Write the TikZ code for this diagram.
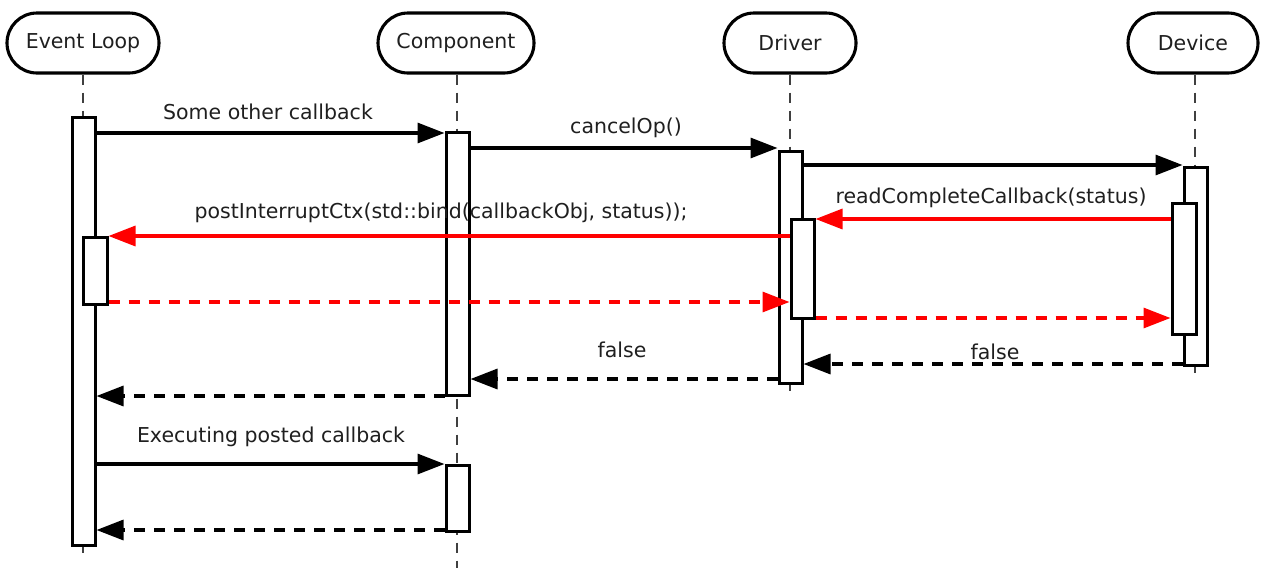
\documentclass[tikz,border=0pt]{standalone}
\usepackage{fontspec}
\setmainfont{DejaVu Sans}
\usetikzlibrary{arrows.meta,shapes.misc}
\begin{document}
\begin{tikzpicture}[x=1pt,y=-1pt,
  every node/.style={font=\fontsize{20.5}{24}\selectfont, text=black!88},
  head/.style={draw, line width=3.1pt, rounded rectangle, minimum height=60pt, inner sep=0pt},
  act/.style={draw, fill=white, line width=3pt, inner sep=0pt},
  life/.style={line width=1.6pt, black!75, dash pattern=on 10pt off 8pt},
  msg/.style={line width=3.2pt, -{Triangle[length=27pt,width=20pt]}},
  ret/.style={msg, dash pattern=on 11pt off 9pt},
  redmsg/.style={msg, red},
  redret/.style={ret, red},
  lbl/.style={inner sep=0pt}
]
\useasboundingbox (0,0) rectangle (1263,568);

% headers
\node[head, minimum width=152pt] (hEL) at (83,43) {Event Loop};
\node[head, minimum width=156pt] (hCO) at (456,43) {Component};
\node[head, minimum width=132pt] (hDR) at (790,43) {Driver};
\node[head, minimum width=130pt] (hDV) at (1193,43) {Device};

% lifeline ends
\coordinate (eEL) at (83,558);
\coordinate (eCO) at (457,568);
\coordinate (eDR) at (790,395);
\coordinate (eDV) at (1195,378);

\draw[life] (hEL.south) -- (hEL.south |- eEL);
\draw[life] (hCO.south -| eCO) -- (eCO);
\draw[life] (hDR.south -| eDR) -- (eDR);
\draw[life] (hDV.south -| eDV) -- (eDV);

% activation boxes
\node[act, minimum width=23pt, minimum height=428pt] (elA) at (83.5,331) {};
\node[act, minimum width=24pt, minimum height=67pt] (elB) at (95,270.5) {};
\node[act, minimum width=23pt, minimum height=263pt] (coA) at (457.5,263.5) {};
\node[act, minimum width=23pt, minimum height=66pt] (coB) at (457.5,498) {};
\node[act, minimum width=23pt, minimum height=232pt] (drA) at (790.5,267) {};
\node[act, minimum width=23pt, minimum height=99pt] (drB) at (802.5,268.5) {};
\node[act, minimum width=23pt, minimum height=198pt] (dvA) at (1195.5,266) {};
\node[act, minimum width=24pt, minimum height=131pt] (dvB) at (1184,268.5) {};

% message levels
\coordinate (y1) at (0,133);
\coordinate (y2) at (0,148);
\coordinate (y3) at (0,165);
\coordinate (y4) at (0,219);
\coordinate (y5) at (0,236);
\coordinate (y6) at (0,302);
\coordinate (y7) at (0,318);
\coordinate (y8) at (0,364);
\coordinate (y9) at (0,379);
\coordinate (y10) at (0,396);
\coordinate (y11) at (0,464);
\coordinate (y12) at (0,530);

\draw[msg] (elA.east |- y1) -- (coA.west |- y1);
\draw[msg] (coA.east |- y2) -- (drA.west |- y2);
\draw[msg] (drA.east |- y3) -- (dvA.west |- y3);
\draw[redmsg] (dvB.west |- y4) -- (drB.east |- y4);
\draw[redmsg] (drB.west |- y5) -- (elB.east |- y5);
\draw[redret] (elB.east |- y6) -- (drB.west |- y6);
\draw[redret] (drB.east |- y7) -- (dvB.west |- y7);
\draw[ret] (dvA.west |- y8) -- (drA.east |- y8);
\draw[ret] (drA.west |- y9) -- (coA.east |- y9);
\draw[ret] (coA.west |- y10) -- (elA.east |- y10);
\draw[msg] (elA.east |- y11) -- (coB.west |- y11);
\draw[ret] (coB.west |- y12) -- (elA.east |- y12);

% labels
\node[lbl] (l1) at (268,112) {Some other callback};
\node[lbl] (l2) at (626,128) {cancelOp()};
\node[lbl] (l4) at (991,198) {readCompleteCallback(status)};
\node[lbl] (l5) at (441,213) {postInterruptCtx(std::bind(callbackObj, status));};
\node[lbl] (l9) at (622,350) {false};
\node[lbl] (l8) at (995,352) {false};
\node[lbl] (l11) at (271,437) {Executing posted callback};
\end{tikzpicture}
\end{document}
